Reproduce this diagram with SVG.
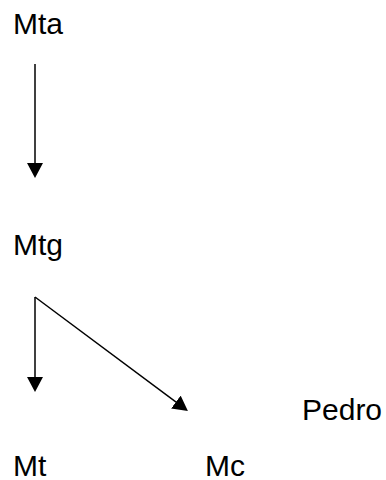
<svg xmlns="http://www.w3.org/2000/svg" width="386" height="480" viewBox="0 0 386 480">
<style>
text{font-family:"Liberation Sans",Arial,sans-serif;font-size:30px;fill:#000}
.c{stroke:#000;stroke-width:1.5;fill:none}
</style>
<defs>
<marker id="ah" markerUnits="userSpaceOnUse" markerWidth="16" markerHeight="16" refX="12" refY="8" orient="auto">
<path d="M0,0 L15,8 L0,16 z" fill="#000"/>
</marker>
</defs>
<rect width="386" height="480" fill="#fff"/>
<g id="connectors">
<path class="c" d="M35,64 L35,175" marker-end="url(#ah)"/>
<path class="c" d="M35,297 L35,389" marker-end="url(#ah)"/>
<path class="c" d="M35,297 L185.5,409.2" marker-end="url(#ah)"/>
</g>
<g id="Mta"><text x="13" y="34">Mta</text></g>
<g id="Mtg"><text x="13" y="255">Mtg</text></g>
<g id="Pedro"><text x="302" y="420">Pedro</text></g>
<g id="Mt"><text x="13" y="476">Mt</text></g>
<g id="Mc"><text x="205" y="476">Mc</text></g>
</svg>
